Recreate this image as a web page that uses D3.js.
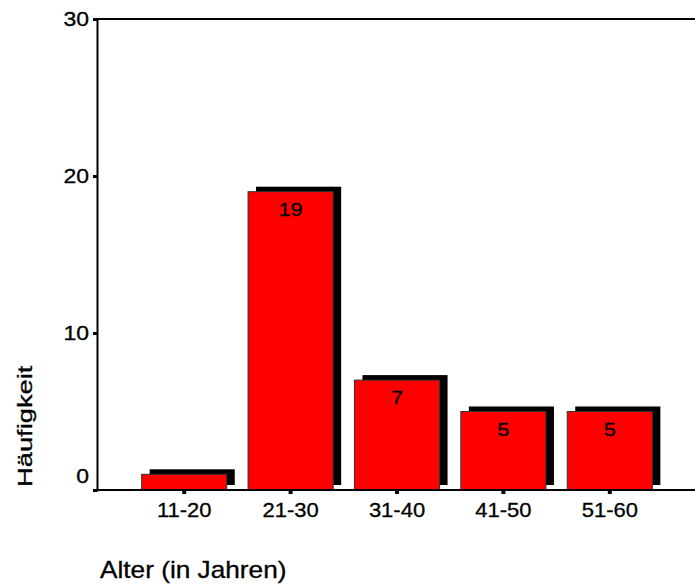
<!DOCTYPE html>
<html>
<head>
<meta charset="utf-8">
<script src="https://cdn.jsdelivr.net/npm/d3@7/dist/d3.min.js"></script>
<style>
  html, body { margin: 0; padding: 0; background: #fff; }
  svg { display: block; }
  text { font-family: Arial, "Liberation Sans", Helvetica, sans-serif; fill: #000; stroke: #000; stroke-width: 0.3px; }
</style>
</head>
<body>
<svg id="chart" width="695" height="587"></svg>
<script>
// Age groups and their frequencies
const categories = ["11-20", "21-30", "31-40", "41-50", "51-60"];
const counts = [1, 19, 7, 5, 5];
const yTicks = [0, 10, 20, 30];
const xTitle = "Alter (in Jahren)";
const yTitle = "Häufigkeit";

const svg = d3.select("#chart");

const plot = { left: 97, right: 695, top: 19, bottom: 490 };
const stretch = 1.15;      // glyphs are drawn slightly wide
const shadow = { dx: 8, dy: -5 };

const x = d3.scaleBand()
  .domain(categories)
  .range([131, 663])
  .paddingInner(0.2)
  .paddingOuter(0.1);

const y = d3.scaleLinear()
  .domain([0, 30])
  .range([plot.bottom, plot.top]);

// helper: horizontally stretched text anchored at (px, py)
function label(g, px, py, str, size, anchor, sx) {
  return g.append("text")
    .attr("transform", `translate(${px},${py}) scale(${sx},1)`)
    .attr("text-anchor", anchor)
    .style("font-size", size + "px")
    .text(str);
}

// frame: top line
svg.append("line")
  .attr("x1", plot.left).attr("x2", plot.right)
  .attr("y1", plot.top).attr("y2", plot.top)
  .attr("stroke", "#000").attr("stroke-width", 2);

// bars with drop shadow
const bars = svg.append("g");
const data = categories.map((c, i) => ({ c, v: counts[i] }));

bars.selectAll("rect.shadow")
  .data(data)
  .join("rect")
  .attr("class", "shadow")
  .attr("x", d => x(d.c) + shadow.dx)
  .attr("y", d => y(d.v) + shadow.dy)
  .attr("width", x.bandwidth())
  .attr("height", d => y(0) - y(d.v))
  .attr("fill", "#000");

bars.selectAll("rect.bar")
  .data(data)
  .join("rect")
  .attr("class", "bar")
  .attr("x", d => x(d.c))
  .attr("y", d => y(d.v))
  .attr("width", x.bandwidth())
  .attr("height", d => y(0) - y(d.v))
  .attr("fill", "#ff0000")
  .attr("stroke", "#333")
  .attr("stroke-width", 1);

// value labels inside bars (small bars get none)
data.filter(d => d.v >= 5).forEach(d => {
  label(bars, x(d.c) + x.bandwidth() / 2, y(d.v) + 24, String(d.v), 19, "middle", stretch);
});

// y axis
const yAxis = svg.append("g")
  .attr("transform", `translate(${plot.left},0)`)
  .call(d3.axisLeft(y).tickValues(yTicks).tickSize(4).tickFormat(""));
yAxis.select(".domain").attr("stroke", "#000").attr("stroke-width", 2);
yAxis.selectAll(".tick line").attr("stroke", "#000").attr("stroke-width", 3);

yTicks.forEach(t => {
  const off = t === 0 ? -7 : 7;
  label(svg, plot.left - 8, y(t) + off, String(t), 20, "end", stretch);
});

// x axis
const xAxis = svg.append("g")
  .attr("transform", `translate(0,${plot.bottom})`)
  .call(d3.axisBottom(x).tickSize(4).tickFormat(""));
xAxis.select(".domain").remove();
xAxis.selectAll(".tick line").attr("stroke", "#000").attr("stroke-width", 4);
svg.append("line")
  .attr("x1", plot.left).attr("x2", plot.right)
  .attr("y1", plot.bottom).attr("y2", plot.bottom)
  .attr("stroke", "#000").attr("stroke-width", 2);

categories.forEach(c => {
  label(svg, x(c) + x.bandwidth() / 2, 517, c, 20, "middle", 1.1);
});

// axis titles
label(svg, 100, 578, xTitle, 23, "start", 1.14);

svg.append("text")
  .attr("transform", "translate(32,487) rotate(-90) scale(1.3,1)")
  .attr("text-anchor", "start")
  .style("font-size", "21px")
  .text(yTitle);
</script>
</body>
</html>
